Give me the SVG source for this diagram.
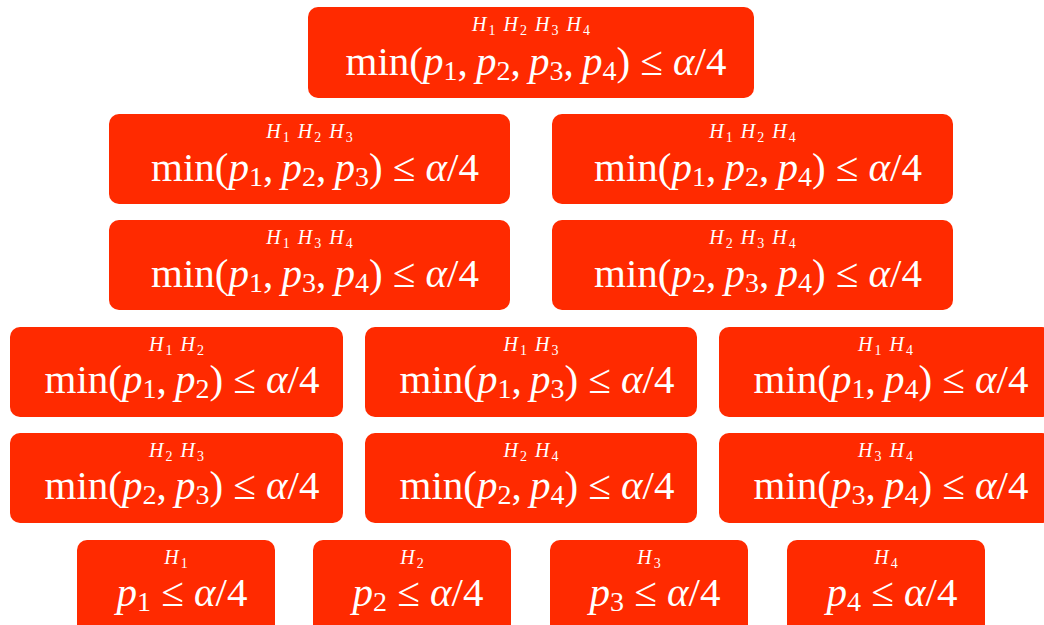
<svg xmlns="http://www.w3.org/2000/svg" width="1044" height="625" viewBox="0 0 1044 625">
<style>
.b{fill:#ff2a00}
.f{font-family:"Liberation Serif",serif;font-size:41px;fill:#fff;text-anchor:middle}
.l{font-family:"Liberation Serif",serif;font-size:20px;fill:#fff;text-anchor:middle;font-style:italic}
.i{font-style:italic}
.s{font-size:28px;font-style:normal}
.ls{font-size:14px;font-style:normal}
</style>
<rect width="1044" height="625" fill="#fff"/>
<g id="connectors"></g>
<g id="n1234"><rect class="b" x="308" y="7" width="446" height="91" rx="10"/>
<text class="l" x="531" y="31">H<tspan class="ls" dx="2" dy="4">1</tspan><tspan dx="8" dy="-4">H</tspan><tspan class="ls" dx="2" dy="4">2</tspan><tspan dx="8" dy="-4">H</tspan><tspan class="ls" dx="2" dy="4">3</tspan><tspan dx="8" dy="-4">H</tspan><tspan class="ls" dx="2" dy="4">4</tspan></text>
<text class="f" x="536" y="75">min(<tspan class="i">p</tspan><tspan class="s" dy="5">1</tspan><tspan dy="-5">,&#8201;</tspan><tspan class="i">p</tspan><tspan class="s" dy="5">2</tspan><tspan dy="-5">,&#8201;</tspan><tspan class="i">p</tspan><tspan class="s" dy="5">3</tspan><tspan dy="-5">,&#8201;</tspan><tspan class="i">p</tspan><tspan class="s" dy="5">4</tspan><tspan dy="-5">) ≤ </tspan><tspan class="i">α</tspan>/4</text></g>
<g id="n123"><rect class="b" x="109" y="114" width="401" height="90" rx="10"/>
<text class="l" x="309.5" y="138">H<tspan class="ls" dx="2" dy="4">1</tspan><tspan dx="8" dy="-4">H</tspan><tspan class="ls" dx="2" dy="4">2</tspan><tspan dx="8" dy="-4">H</tspan><tspan class="ls" dx="2" dy="4">3</tspan></text>
<text class="f" x="315" y="181">min(<tspan class="i">p</tspan><tspan class="s" dy="5">1</tspan><tspan dy="-5">,&#8201;</tspan><tspan class="i">p</tspan><tspan class="s" dy="5">2</tspan><tspan dy="-5">,&#8201;</tspan><tspan class="i">p</tspan><tspan class="s" dy="5">3</tspan><tspan dy="-5">) ≤ </tspan><tspan class="i">α</tspan>/4</text></g>
<g id="n124"><rect class="b" x="552" y="114" width="401" height="90" rx="10"/>
<text class="l" x="752.5" y="138">H<tspan class="ls" dx="2" dy="4">1</tspan><tspan dx="8" dy="-4">H</tspan><tspan class="ls" dx="2" dy="4">2</tspan><tspan dx="8" dy="-4">H</tspan><tspan class="ls" dx="2" dy="4">4</tspan></text>
<text class="f" x="758" y="181">min(<tspan class="i">p</tspan><tspan class="s" dy="5">1</tspan><tspan dy="-5">,&#8201;</tspan><tspan class="i">p</tspan><tspan class="s" dy="5">2</tspan><tspan dy="-5">,&#8201;</tspan><tspan class="i">p</tspan><tspan class="s" dy="5">4</tspan><tspan dy="-5">) ≤ </tspan><tspan class="i">α</tspan>/4</text></g>
<g id="n134"><rect class="b" x="109" y="220" width="401" height="90" rx="10"/>
<text class="l" x="309.5" y="244">H<tspan class="ls" dx="2" dy="4">1</tspan><tspan dx="8" dy="-4">H</tspan><tspan class="ls" dx="2" dy="4">3</tspan><tspan dx="8" dy="-4">H</tspan><tspan class="ls" dx="2" dy="4">4</tspan></text>
<text class="f" x="315" y="287">min(<tspan class="i">p</tspan><tspan class="s" dy="5">1</tspan><tspan dy="-5">,&#8201;</tspan><tspan class="i">p</tspan><tspan class="s" dy="5">3</tspan><tspan dy="-5">,&#8201;</tspan><tspan class="i">p</tspan><tspan class="s" dy="5">4</tspan><tspan dy="-5">) ≤ </tspan><tspan class="i">α</tspan>/4</text></g>
<g id="n234"><rect class="b" x="552" y="220" width="401" height="90" rx="10"/>
<text class="l" x="752.5" y="244">H<tspan class="ls" dx="2" dy="4">2</tspan><tspan dx="8" dy="-4">H</tspan><tspan class="ls" dx="2" dy="4">3</tspan><tspan dx="8" dy="-4">H</tspan><tspan class="ls" dx="2" dy="4">4</tspan></text>
<text class="f" x="758" y="287">min(<tspan class="i">p</tspan><tspan class="s" dy="5">2</tspan><tspan dy="-5">,&#8201;</tspan><tspan class="i">p</tspan><tspan class="s" dy="5">3</tspan><tspan dy="-5">,&#8201;</tspan><tspan class="i">p</tspan><tspan class="s" dy="5">4</tspan><tspan dy="-5">) ≤ </tspan><tspan class="i">α</tspan>/4</text></g>
<g id="n12"><rect class="b" x="10" y="327" width="333" height="90" rx="10"/>
<text class="l" x="176.5" y="351">H<tspan class="ls" dx="2" dy="4">1</tspan><tspan dx="8" dy="-4">H</tspan><tspan class="ls" dx="2" dy="4">2</tspan></text>
<text class="f" x="182" y="393">min(<tspan class="i">p</tspan><tspan class="s" dy="5">1</tspan><tspan dy="-5">,&#8201;</tspan><tspan class="i">p</tspan><tspan class="s" dy="5">2</tspan><tspan dy="-5">) ≤ </tspan><tspan class="i">α</tspan>/4</text></g>
<g id="n13"><rect class="b" x="365" y="327" width="332" height="90" rx="10"/>
<text class="l" x="531" y="351">H<tspan class="ls" dx="2" dy="4">1</tspan><tspan dx="8" dy="-4">H</tspan><tspan class="ls" dx="2" dy="4">3</tspan></text>
<text class="f" x="537" y="393">min(<tspan class="i">p</tspan><tspan class="s" dy="5">1</tspan><tspan dy="-5">,&#8201;</tspan><tspan class="i">p</tspan><tspan class="s" dy="5">3</tspan><tspan dy="-5">) ≤ </tspan><tspan class="i">α</tspan>/4</text></g>
<g id="n14"><rect class="b" x="719" y="327" width="333" height="90" rx="10"/>
<text class="l" x="885.5" y="351">H<tspan class="ls" dx="2" dy="4">1</tspan><tspan dx="8" dy="-4">H</tspan><tspan class="ls" dx="2" dy="4">4</tspan></text>
<text class="f" x="891" y="393">min(<tspan class="i">p</tspan><tspan class="s" dy="5">1</tspan><tspan dy="-5">,&#8201;</tspan><tspan class="i">p</tspan><tspan class="s" dy="5">4</tspan><tspan dy="-5">) ≤ </tspan><tspan class="i">α</tspan>/4</text></g>
<g id="n23"><rect class="b" x="10" y="433" width="333" height="90" rx="10"/>
<text class="l" x="176.5" y="457">H<tspan class="ls" dx="2" dy="4">2</tspan><tspan dx="8" dy="-4">H</tspan><tspan class="ls" dx="2" dy="4">3</tspan></text>
<text class="f" x="182" y="499">min(<tspan class="i">p</tspan><tspan class="s" dy="5">2</tspan><tspan dy="-5">,&#8201;</tspan><tspan class="i">p</tspan><tspan class="s" dy="5">3</tspan><tspan dy="-5">) ≤ </tspan><tspan class="i">α</tspan>/4</text></g>
<g id="n24"><rect class="b" x="365" y="433" width="332" height="90" rx="10"/>
<text class="l" x="531" y="457">H<tspan class="ls" dx="2" dy="4">2</tspan><tspan dx="8" dy="-4">H</tspan><tspan class="ls" dx="2" dy="4">4</tspan></text>
<text class="f" x="537" y="499">min(<tspan class="i">p</tspan><tspan class="s" dy="5">2</tspan><tspan dy="-5">,&#8201;</tspan><tspan class="i">p</tspan><tspan class="s" dy="5">4</tspan><tspan dy="-5">) ≤ </tspan><tspan class="i">α</tspan>/4</text></g>
<g id="n34"><rect class="b" x="719" y="433" width="333" height="90" rx="10"/>
<text class="l" x="885.5" y="457">H<tspan class="ls" dx="2" dy="4">3</tspan><tspan dx="8" dy="-4">H</tspan><tspan class="ls" dx="2" dy="4">4</tspan></text>
<text class="f" x="891" y="499">min(<tspan class="i">p</tspan><tspan class="s" dy="5">3</tspan><tspan dy="-5">,&#8201;</tspan><tspan class="i">p</tspan><tspan class="s" dy="5">4</tspan><tspan dy="-5">) ≤ </tspan><tspan class="i">α</tspan>/4</text></g>
<g id="n1"><rect class="b" x="77" y="540" width="198" height="95" rx="10"/>
<text class="l" x="176" y="564">H<tspan class="ls" dx="2" dy="4">1</tspan></text>
<text class="f" x="182" y="606"><tspan class="i">p</tspan><tspan class="s" dy="5">1</tspan><tspan dy="-5"> ≤ </tspan><tspan class="i">α</tspan>/4</text></g>
<g id="n2"><rect class="b" x="313" y="540" width="198" height="95" rx="10"/>
<text class="l" x="412" y="564">H<tspan class="ls" dx="2" dy="4">2</tspan></text>
<text class="f" x="418" y="606"><tspan class="i">p</tspan><tspan class="s" dy="5">2</tspan><tspan dy="-5"> ≤ </tspan><tspan class="i">α</tspan>/4</text></g>
<g id="n3"><rect class="b" x="550" y="540" width="198" height="95" rx="10"/>
<text class="l" x="649" y="564">H<tspan class="ls" dx="2" dy="4">3</tspan></text>
<text class="f" x="655" y="606"><tspan class="i">p</tspan><tspan class="s" dy="5">3</tspan><tspan dy="-5"> ≤ </tspan><tspan class="i">α</tspan>/4</text></g>
<g id="n4"><rect class="b" x="787" y="540" width="198" height="95" rx="10"/>
<text class="l" x="886" y="564">H<tspan class="ls" dx="2" dy="4">4</tspan></text>
<text class="f" x="892" y="606"><tspan class="i">p</tspan><tspan class="s" dy="5">4</tspan><tspan dy="-5"> ≤ </tspan><tspan class="i">α</tspan>/4</text></g>
</svg>
